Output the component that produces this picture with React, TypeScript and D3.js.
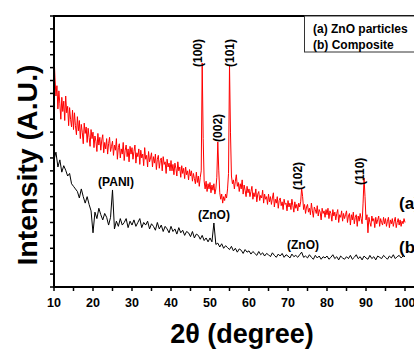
import React from 'react';
import * as d3 from 'd3';

const W = 414;
const H = 350;

const angleStart = 10;
const zincOxideStep = 0.25;
const compositeStep = 0.5;

// (a) ZnO particles, 10° .. 100° every 0.25°
const zincOxideCounts = [
  1800, 1620, 1480, 1560, 1380, 1520, 1420, 1300, 1470, 1360, 1440, 1290, 1480, 1350, 1400, 1250, 1390, 1300, 1240, 1370,
  1220, 1350, 1250, 1180, 1320, 1210, 1290, 1150, 1260, 1200, 1110, 1270, 1190, 1240, 1120, 1230, 1160, 1090, 1220, 1150,
  1200, 1080, 1170, 1130, 1050, 1190, 1100, 1160, 1060, 1140, 1180, 1040, 1120, 1070, 1150, 1030, 1110, 1160, 1050, 1090,
  1130, 1020, 1100, 1060, 1150, 990, 1080, 1110, 1000, 1070, 1030, 1120, 980, 1060, 1100, 1010, 1070, 970, 1090, 1030,
  1080, 990, 1050, 1100, 960, 1040, 1010, 1070, 950, 1060, 1000, 1030, 940, 1080, 990, 1020, 930, 1050, 970, 1000,
  1040, 930, 1010, 960, 1030, 910, 990, 1020, 920, 980, 1000, 900, 1010, 950, 970, 880, 990, 930, 960, 900,
  980, 900, 950, 870, 960, 920, 860, 970, 900, 930, 850, 940, 880, 920, 840, 930, 870, 900, 830, 910,
  860, 900, 820, 880, 840, 800, 890, 810, 860, 780, 850, 900, 1736, 1150, 820, 760, 820, 740, 800, 760,
  810, 730, 790, 750, 800, 720, 760, 850, 1124, 900, 730, 680, 720, 650, 700, 670, 720, 690, 760, 880,
  1720, 1200, 860, 800, 830, 760, 820, 870, 780, 810, 740, 800, 760, 830, 720, 790, 750, 700, 780, 730,
  760, 700, 740, 780, 680, 730, 700, 760, 660, 720, 740, 670, 710, 690, 750, 650, 720, 680, 700, 640,
  720, 660, 700, 640, 690, 730, 620, 680, 650, 700, 610, 670, 690, 630, 660, 600, 680, 640, 650, 590,
  670, 620, 650, 600, 680, 630, 580, 660, 610, 640, 590, 650, 620, 660, 767, 700, 600, 640, 570, 620,
  640, 580, 610, 560, 650, 590, 540, 620, 600, 570, 630, 550, 600, 580, 520, 610, 570, 590, 540, 600,
  560, 610, 530, 590, 570, 510, 600, 550, 580, 520, 570, 600, 500, 560, 540, 590, 510, 570, 530, 560,
  590, 500, 550, 570, 480, 560, 520, 580, 490, 540, 560, 470, 550, 510, 570, 530, 490, 650, 845, 700,
  520, 560, 420, 540, 500, 470, 550, 510, 530, 460, 540, 490, 520, 550, 470, 530, 500, 480, 540, 490,
  530, 470, 510, 540, 460, 520, 490, 530, 470, 510, 540, 460, 500, 530, 480, 520, 470, 510, 490, 530,
  500,
];

// (b) Composite, 10° .. 100° every 0.5°
const compositeCounts = [
  985, 1045, 930, 985, 890, 940, 905, 860, 880, 800,
  780, 760, 740, 690, 760, 700, 650, 700, 640, 590,
  420, 580, 530, 610, 560, 520, 570, 540, 480, 540,
  752, 450, 510, 470, 530, 480, 500, 530, 460, 510,
  480, 520, 470, 500, 530, 460, 500, 480, 510, 450,
  490, 470, 440, 500, 450, 480, 430, 470, 450, 420,
  470, 430, 450, 410, 460, 420, 440, 400, 430, 420,
  390, 430, 380, 410, 400, 370, 400, 360, 380, 350,
  380, 350, 496, 330, 340, 310, 335, 300, 320, 305,
  290, 315, 280, 300, 270, 295, 285, 260, 290, 270,
  280, 255, 275, 260, 245, 275, 250, 265, 240, 260,
  250, 235, 265, 245, 230, 255, 240, 260, 230, 250,
  240, 225, 255, 235, 245, 230, 250, 270, 230, 240,
  225, 250, 230, 215, 245, 225, 240, 215, 235, 225,
  240, 215, 230, 250, 220, 235, 210, 240, 225, 215,
  235, 220, 245, 215, 230, 250, 220, 235, 210, 240,
  225, 215, 245, 220, 235, 210, 240, 230, 220, 245,
  230, 215, 240, 225, 250, 220, 235, 245, 225, 240,
  235,
];

const xTickLabels = [10, 20, 30, 40, 50, 60, 70, 80, 90, 100];
const xMinorTicks = [15, 25, 35, 45, 55, 65, 75, 85, 95, 105];

// Reflection labels (rotated), anchored at baseline angle / bottom count
const hklLabels = ['(100)', '(002)', '(101)', '(102)', '(110)'];
const hklAngles = [47.9, 53.0, 56.1, 73.5, 89.4];
const hklCounts = [1705, 1124, 1705, 752, 790];

// Horizontal peak labels (centered)
const phaseLabels = ['(PANI)', '(ZnO)', '(ZnO)'];
const phaseAngles = [25.9, 51.0, 73.85];
const phaseCounts = [783, 527, 295];

const curveTags = ['(a)', '(b)'];
const curveTagAngles = [98.46, 98.46];
const curveTagCounts = [605, 264];

const legendEntries = ['(a) ZnO particles', '(b) Composite'];

const FONT = '"Liberation Sans", Arial, Helvetica, sans-serif';

export default function App() {
  const left = 54;
  const top = 16;
  const bottom = 287;
  const x = d3.scaleLinear().domain([10, 100]).range([left, 405]);
  const y = d3.scaleLinear().domain([0, 2100]).range([bottom, top]);
  const frameRight = x(106);

  const toPoints = (arr: number[], step: number) =>
    arr.map((v, i) => [angleStart + i * step, v] as [number, number]);
  const line = d3
    .line<[number, number]>()
    .x((d) => x(d[0]))
    .y((d) => y(d[1]));

  const yTicks = d3.range(0, 2101, 100);
  const xAllTicks = [...xTickLabels, ...xMinorTicks];

  return (
    <svg
      width={W}
      height={H}
      style={{ position: 'absolute', left: 0, top: 0, background: '#fff' }}
      fontFamily={FONT}
    >
      <rect x={0} y={0} width={W} height={H} fill="#fff" />
      {/* data */}
      <path d={line(toPoints(compositeCounts, compositeStep)) || ''} fill="none" stroke="#000" strokeWidth={1} />
      <path d={line(toPoints(zincOxideCounts, zincOxideStep)) || ''} fill="none" stroke="#ff0000" strokeWidth={1} />

      {/* frame */}
      <line x1={left} x2={frameRight} y1={top} y2={top} stroke="#000" strokeWidth={2} />
      <line x1={left} x2={left} y1={top - 1} y2={bottom + 1} stroke="#000" strokeWidth={2} />
      <line x1={left - 1} x2={frameRight} y1={bottom} y2={bottom} stroke="#000" strokeWidth={2} />

      {/* y ticks */}
      {yTicks.map((t) => (
        <line key={'yt' + t} x1={left - 4} x2={left} y1={y(t)} y2={y(t)} stroke="#000" strokeWidth={1.5} />
      ))}
      {/* x ticks */}
      {xAllTicks.map((t) => (
        <line key={'xt' + t} x1={x(t)} x2={x(t)} y1={bottom} y2={bottom + 4} stroke="#000" strokeWidth={1.5} />
      ))}
      {xTickLabels.map((t) => (
        <text key={'xl' + t} x={x(t)} y={306.5} textAnchor="middle" fontSize={12.5} fontWeight="bold" fill="#000">
          {t}
        </text>
      ))}

      {/* axis titles */}
      <text x={242} y={343} textAnchor="middle" fontSize={27} fontWeight="bold" fill="#000">
        2θ (degree)
      </text>
      <text
        transform="translate(37,165) rotate(-90)"
        textAnchor="middle"
        fontSize={28.5}
        fontWeight="bold"
        fill="#000"
      >
        Intensity (A.U.)
      </text>

      {/* hkl labels */}
      {hklLabels.map((s, i) => (
        <text
          key={'hkl' + i}
          transform={`translate(${x(hklAngles[i])},${y(hklCounts[i])}) rotate(-90)`}
          fontSize={12}
          fontWeight="bold"
          fill="#000"
        >
          {s}
        </text>
      ))}
      {phaseLabels.map((s, i) => (
        <text
          key={'ph' + i}
          x={x(phaseAngles[i])}
          y={y(phaseCounts[i])}
          textAnchor="middle"
          fontSize={12}
          fontWeight="bold"
          fill="#000"
        >
          {s}
        </text>
      ))}
      {curveTags.map((s, i) => (
        <text
          key={'ct' + i}
          x={x(curveTagAngles[i])}
          y={y(curveTagCounts[i])}
          fontSize={17}
          fontWeight="bold"
          fill="#000"
        >
          {s}
        </text>
      ))}

      {/* legend */}
      <rect x={304.5} y={top} width={140} height={36} fill="#fff" stroke="#333" strokeWidth={1} />
      {legendEntries.map((s, i) => (
        <text key={'lg' + i} x={313} y={33 + i * 16} fontSize={12} fontWeight="bold" fill="#000">
          {s}
        </text>
      ))}
    </svg>
  );
}
